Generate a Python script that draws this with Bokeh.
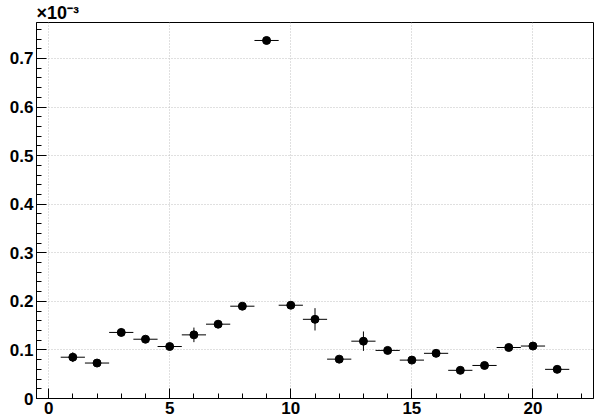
from bokeh.plotting import figure
from bokeh.models import ColumnDataSource, Range1d, FixedTicker
from bokeh.embed import file_html
from bokeh.resources import INLINE

# bin centers and values (in units of 1e-3)
bins = [1, 2, 3, 4, 5, 6, 7, 8, 9, 10, 11, 12, 13, 14, 15, 16, 17, 18, 19, 20, 21]
values = [0.085, 0.073, 0.136, 0.122, 0.107, 0.131, 0.153, 0.190, 0.737, 0.192, 0.163,
          0.081, 0.118, 0.099, 0.079, 0.093, 0.058, 0.068, 0.105, 0.108, 0.060]
errors = [0.010, 0.006, 0.008, 0.007, 0.007, 0.015, 0.008, 0.006, 0.005, 0.006, 0.023,
          0.006, 0.020, 0.007, 0.006, 0.006, 0.006, 0.006, 0.007, 0.007, 0.006]
bin_width = 1.0
x_ticks = [0, 5, 10, 15, 20]
y_ticks = [0, 0.1, 0.2, 0.3, 0.4, 0.5, 0.6, 0.7]
y_tick_labels = ["0", "0.1", "0.2", "0.3", "0.4", "0.5", "0.6", "0.7"]
exponent_text = "\u00d710\u207b\u00b3"

src = ColumnDataSource(dict(
    x=bins, y=values,
    xl=[b - bin_width / 2 for b in bins], xr=[b + bin_width / 2 for b in bins],
    yl=[v - e for v, e in zip(values, errors)], yh=[v + e for v, e in zip(values, errors)],
))

font = "Liberation Sans"

p = figure(width=596, height=420, output_backend="svg", toolbar_location=None,
           x_range=Range1d(-0.5, 22.5), y_range=Range1d(0, 0.774),
           min_border_left=36, min_border_right=3, min_border_top=21, min_border_bottom=22)
p.background_fill_color = "white"
p.border_fill_color = "white"
p.outline_line_color = "black"
p.outline_line_width = 1

p.title.text = exponent_text
p.title.align = "left"
p.title.text_font = font
p.title.text_font_size = "18px"
p.title.text_font_style = "bold"
p.title.text_color = "black"
p.title.standoff = 0
p.title.offset = 0

for ax in (p.xaxis[0], p.yaxis[0]):
    ax.axis_line_color = "black"
    ax.axis_line_width = 1
    ax.major_tick_in = 10
    ax.major_tick_out = 0
    ax.minor_tick_in = 5
    ax.minor_tick_out = 0
    ax.major_label_text_font = font
    ax.major_label_text_font_style = "bold"
    ax.major_label_text_font_size = "17px"
    ax.major_label_text_color = "black"

p.xaxis[0].ticker = FixedTicker(ticks=x_ticks, minor_ticks=list(range(0, 23)))
p.yaxis[0].ticker = FixedTicker(ticks=y_ticks, minor_ticks=[i * 0.02 for i in range(0, 39)])
p.yaxis[0].major_label_overrides = {t: l for t, l in zip(y_ticks, y_tick_labels)}
p.xaxis[0].major_label_standoff = 3
p.yaxis[0].major_label_standoff = 3

p.xgrid.ticker = FixedTicker(ticks=x_ticks)
p.ygrid.ticker = FixedTicker(ticks=y_ticks)
for g in (p.xgrid, p.ygrid):
    g.grid_line_color = "#c0c0c0"
    g.grid_line_dash = "1 2"
    g.grid_line_width = 1

p.segment("xl", "y", "xr", "y", source=src, line_color="black", line_width=1)
p.segment("x", "yl", "x", "yh", source=src, line_color="black", line_width=1)
p.scatter("x", "y", source=src, size=8, marker="circle", fill_color="black", line_color="black")

open("out.html", "w").write(file_html(p, INLINE))
